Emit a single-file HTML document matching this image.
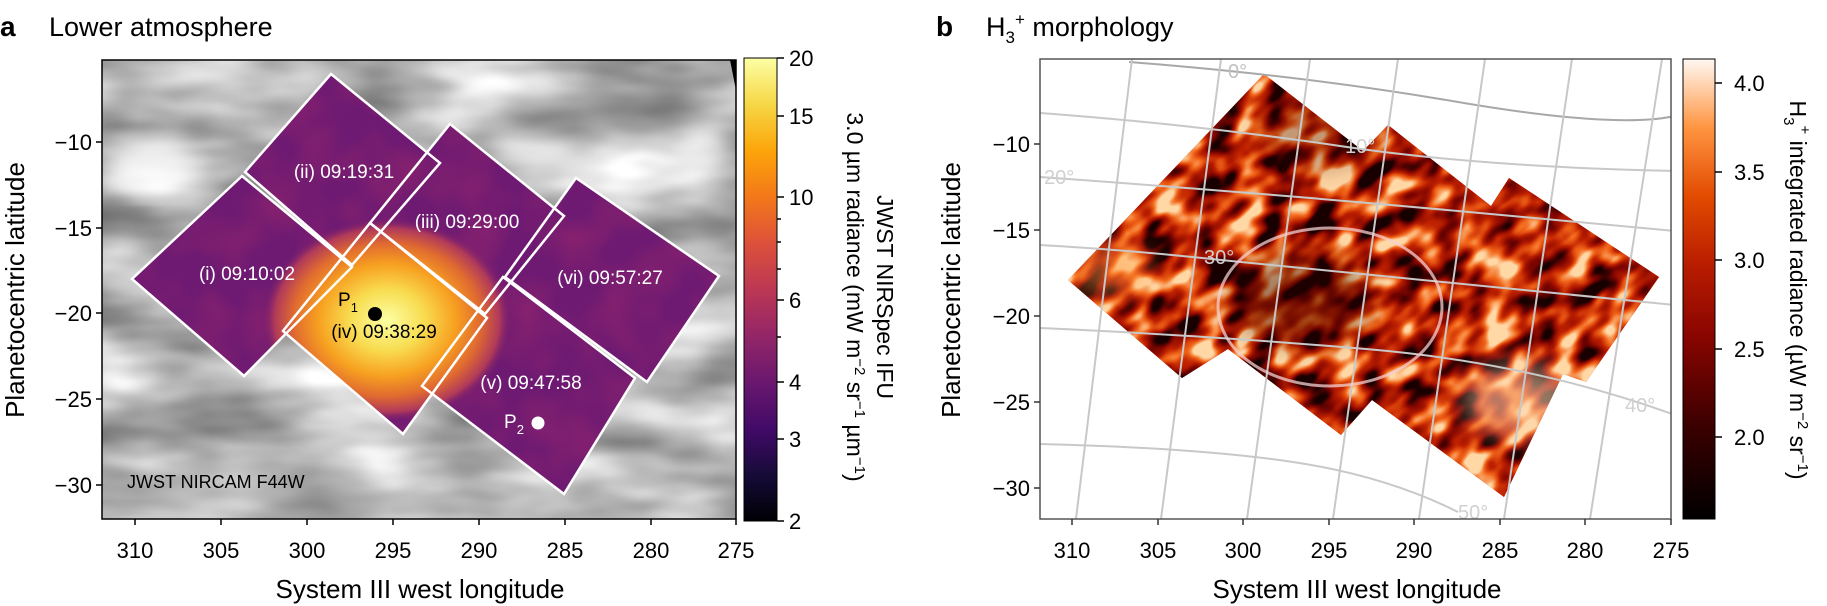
<!DOCTYPE html>
<html><head><meta charset="utf-8"><style>
html,body{margin:0;padding:0;background:#fff;width:1827px;height:606px;overflow:hidden;}
svg{display:block;font-family:"Liberation Sans",sans-serif;overflow:hidden;}
</style></head><body>
<svg width="1827" height="606" viewBox="0 0 1827 606" xmlns="http://www.w3.org/2000/svg">
<defs>
  <linearGradient id="inf" x1="0" y1="1" x2="0" y2="0">
    <stop offset="0" stop-color="#000004"/><stop offset="0.1" stop-color="#160b39"/>
    <stop offset="0.2" stop-color="#420a68"/><stop offset="0.3" stop-color="#6a176e"/>
    <stop offset="0.4" stop-color="#932667"/><stop offset="0.5" stop-color="#bc3754"/>
    <stop offset="0.6" stop-color="#dd513a"/><stop offset="0.7" stop-color="#f37819"/>
    <stop offset="0.8" stop-color="#fca50a"/><stop offset="0.9" stop-color="#f6d746"/>
    <stop offset="1" stop-color="#fcffa4"/>
  </linearGradient>
  <linearGradient id="heat" x1="0" y1="1" x2="0" y2="0">
    <stop offset="0" stop-color="#000000"/><stop offset="0.2" stop-color="#3a0000"/>
    <stop offset="0.4" stop-color="#8a0500"/><stop offset="0.55" stop-color="#b81c00"/>
    <stop offset="0.7" stop-color="#e24a00"/><stop offset="0.85" stop-color="#ff9440"/>
    <stop offset="1" stop-color="#fff8f2"/>
  </linearGradient>
  <radialGradient id="glow" cx="387" cy="320" r="1" gradientUnits="userSpaceOnUse" gradientTransform="translate(387 320) scale(125 102) translate(-387 -320)">
    <stop offset="0" stop-color="#fcffa4"/><stop offset="0.3" stop-color="#f8dc50"/>
    <stop offset="0.55" stop-color="#f7a020"/><stop offset="0.75" stop-color="#e06a30"/>
    <stop offset="0.9" stop-color="#b03a5a"/><stop offset="1" stop-color="#761c6e" stop-opacity="0"/>
  </radialGradient>
  <filter id="grayn" x="102" y="60" width="634" height="460" filterUnits="userSpaceOnUse" color-interpolation-filters="sRGB">
    <feTurbulence type="fractalNoise" baseFrequency="0.007 0.02" numOctaves="3" seed="4"/>
    <feColorMatrix type="matrix" values="0.8 0 0 0 0.32  0.8 0 0 0 0.32  0.8 0 0 0 0.32  0 0 0 0 1"/>
  </filter>
  <filter id="blur8"><feGaussianBlur stdDeviation="12"/></filter>
  <filter id="heatn" x="-200" y="-200" width="3000" height="1200" filterUnits="userSpaceOnUse" color-interpolation-filters="sRGB">
    <feTurbulence type="fractalNoise" baseFrequency="0.028 0.045" numOctaves="2" seed="7"/>
    <feColorMatrix type="matrix" values="2.4 0 0 0 -0.72  2.4 0 0 0 -0.72  2.4 0 0 0 -0.72  0 0 0 0 1"/>
    <feComponentTransfer>
      <feFuncR type="table" tableValues="0.1 0.5 0.75 0.95 1"/>
      <feFuncG type="table" tableValues="0 0.02 0.13 0.4 0.85"/>
      <feFuncB type="table" tableValues="0 0 0 0.1 0.65"/>
    </feComponentTransfer>
  </filter>
  <filter id="purn" x="102" y="60" width="634" height="460" filterUnits="userSpaceOnUse" color-interpolation-filters="sRGB">
    <feTurbulence type="fractalNoise" baseFrequency="0.02" numOctaves="2" seed="2"/>
    <feColorMatrix type="matrix" values="0 0 0 0 0.6  0 0 0 0 0.15  0 0 0 0 0.42  1.2 0 0 0 -0.45"/>
  </filter>
  <clipPath id="clipA"><rect x="102" y="60" width="634" height="459"/></clipPath>
  <clipPath id="tiles">
    <polygon points="331,74 440,163 352,265 245,172"/>
    <polygon points="242,176 352,267 244,376 132,279"/>
    <polygon points="450,124 564,216 485,314 370,223"/>
    <polygon points="370,223 487,318 403,434 283,331"/>
    <polygon points="503,277 635,378 564,494 422,386"/>
    <polygon points="576,178 719,276 647,382 505,277"/>
  </clipPath>
  <clipPath id="clipB"><rect x="1040" y="59" width="631" height="460"/></clipPath>
  <clipPath id="shapeB">
    <polygon points="1068,280 1264,74 1363,151 1388,125 1491,206 1509,178 1659,277 1586,382 1563,374 1504,497 1372,400 1341,435 1228,349 1182,378"/>
  </clipPath>
</defs>

<!-- Panel a -->
<text x="0" y="36" font-size="28" font-weight="bold">a</text>
<text x="49" y="36" font-size="27">Lower atmosphere</text>
<g clip-path="url(#clipA)">
  <rect x="102" y="60" width="634" height="459" fill="#b0b0b0" filter="url(#grayn)"/>
  <g filter="url(#blur8)" fill="#fff" opacity="0.8">
    <ellipse cx="150" cy="165" rx="45" ry="28"/>
    <ellipse cx="535" cy="150" rx="45" ry="16"/>
    <ellipse cx="210" cy="75" rx="40" ry="10"/>
    <ellipse cx="700" cy="140" rx="25" ry="20"/>
  </g>
  <g filter="url(#blur8)" fill="#888" opacity="0.45">
    <ellipse cx="250" cy="490" rx="140" ry="25"/>
    <ellipse cx="600" cy="110" rx="90" ry="18"/>
  </g>
  <polygon points="730,60 736,60 736,90" fill="#000"/>
  <g clip-path="url(#tiles)">
    <rect x="102" y="60" width="634" height="459" fill="#6e1a72"/>
    <rect x="102" y="60" width="634" height="459" filter="url(#purn)"/>
    <ellipse cx="387" cy="320" rx="125" ry="102" fill="url(#glow)"/>
  </g>
  <g fill="none" stroke="#fff" stroke-width="2.5">
    <polygon points="331,74 440,163 352,265 245,172"/>
    <polygon points="242,176 352,267 244,376 132,279"/>
    <polygon points="450,124 564,216 485,314 370,223"/>
    <polygon points="576,178 719,276 647,382 505,277"/>
    <polygon points="503,277 635,378 564,494 422,386"/>
    <polygon points="370,223 487,318 403,434 283,331"/>
  </g>
  <g font-size="19" fill="#fff" text-anchor="middle">
    <text x="344" y="178">(ii) 09:19:31</text>
    <text x="467" y="228">(iii) 09:29:00</text>
    <text x="247" y="280">(i) 09:10:02</text>
    <text x="610" y="284">(vi) 09:57:27</text>
    <text x="531" y="389">(v) 09:47:58</text>
    <text x="384" y="338" fill="#000">(iv) 09:38:29</text>
  </g>
  <circle cx="375" cy="314" r="7" fill="#000"/>
  <text x="338" y="306" font-size="19">P<tspan font-size="13" dy="6">1</tspan></text>
  <circle cx="538" cy="423" r="6.5" fill="#fff"/>
  <text x="504" y="428" font-size="19" fill="#fff">P<tspan font-size="13" dy="6">2</tspan></text>
  <text x="127" y="488" font-size="18">JWST NIRCAM F44W</text>
</g>
<rect x="102" y="60" width="634" height="459" fill="none" stroke="#000" stroke-width="1.5"/>
<g stroke="#000" stroke-width="1.5">
  <line x1="96" y1="142" x2="102" y2="142"/><line x1="96" y1="228" x2="102" y2="228"/>
  <line x1="96" y1="313" x2="102" y2="313"/><line x1="96" y1="399" x2="102" y2="399"/>
  <line x1="96" y1="485" x2="102" y2="485"/>
  <line x1="135" y1="519" x2="135" y2="525"/><line x1="221" y1="519" x2="221" y2="525"/>
  <line x1="307" y1="519" x2="307" y2="525"/><line x1="393" y1="519" x2="393" y2="525"/>
  <line x1="479" y1="519" x2="479" y2="525"/><line x1="565" y1="519" x2="565" y2="525"/>
  <line x1="651" y1="519" x2="651" y2="525"/><line x1="736" y1="519" x2="736" y2="525"/>
</g>
<g font-size="22" text-anchor="end">
  <text x="92" y="150">−10</text><text x="92" y="236">−15</text><text x="92" y="321">−20</text>
  <text x="92" y="407">−25</text><text x="92" y="493">−30</text>
</g>
<g font-size="22" text-anchor="middle">
  <text x="135" y="558">310</text><text x="221" y="558">305</text><text x="307" y="558">300</text>
  <text x="393" y="558">295</text><text x="479" y="558">290</text><text x="565" y="558">285</text>
  <text x="651" y="558">280</text><text x="736" y="558">275</text>
</g>
<text x="420" y="598" font-size="26" text-anchor="middle">System III west longitude</text>
<text transform="translate(24 290) rotate(-90)" font-size="26" text-anchor="middle">Planetocentric latitude</text>
<!-- colorbar a -->
<rect x="744" y="58" width="33" height="463" fill="url(#inf)" stroke="#000" stroke-width="1"/>
<g stroke="#000" stroke-width="1.5">
  <line x1="777" y1="58" x2="784" y2="58"/><line x1="777" y1="116" x2="784" y2="116"/>
  <line x1="777" y1="197" x2="784" y2="197"/><line x1="777" y1="219" x2="781" y2="219"/>
  <line x1="777" y1="242" x2="781" y2="242"/><line x1="777" y1="269" x2="781" y2="269"/>
  <line x1="777" y1="300" x2="784" y2="300"/><line x1="777" y1="337" x2="781" y2="337"/>
  <line x1="777" y1="382" x2="784" y2="382"/><line x1="777" y1="439" x2="784" y2="439"/>
  <line x1="777" y1="521" x2="784" y2="521"/>
</g>
<g font-size="22">
  <text x="789" y="66">20</text><text x="789" y="124">15</text><text x="789" y="205">10</text>
  <text x="789" y="308">6</text><text x="789" y="390">4</text><text x="789" y="447">3</text>
  <text x="789" y="529">2</text>
</g>
<g font-size="23" text-anchor="middle">
  <text transform="translate(877 297) rotate(90)">JWST NIRSpec IFU</text>
  <text transform="translate(847 297) rotate(90)">3.0 µm radiance (mW m<tspan font-size="15" dy="-8">−2</tspan><tspan dy="8"> sr</tspan><tspan font-size="15" dy="-8">−1</tspan><tspan dy="8"> µm</tspan><tspan font-size="15" dy="-8">−1</tspan><tspan dy="8">)</tspan></text>
</g>

<!-- Panel b -->
<text x="936" y="36" font-size="28" font-weight="bold">b</text>
<text x="986" y="36" font-size="27">H<tspan font-size="17" dy="7">3</tspan><tspan font-size="17" dy="-18">+</tspan><tspan dy="11"> morphology</tspan></text>
<g clip-path="url(#clipB)">
  <g clip-path="url(#shapeB)">
    <rect x="1040" y="59" width="640" height="460" fill="#b81c00"/>
    <g transform="rotate(-38 1360 290)">
      <rect x="900" y="-100" width="900" height="800" filter="url(#heatn)"/>
    </g>
    <g filter="url(#blur8)">
      <ellipse cx="1520" cy="400" rx="55" ry="35" fill="#ffd8b0" opacity="0.55"/>
      <ellipse cx="1110" cy="270" rx="40" ry="25" fill="#ff9a40" opacity="0.45"/>
      <ellipse cx="1300" cy="300" rx="70" ry="45" fill="#200000" opacity="0.4"/>
      <ellipse cx="1320" cy="130" rx="60" ry="40" fill="#400000" opacity="0.3"/>
    </g>
  </g>
  <g fill="none" stroke="#c8c8c8" stroke-width="2">
    <path d="M1129,62 Q1300,75 1458,102 T1675,116" stroke="#a8a8a8"/>
    <path d="M1040,113 Q1200,125 1340,146 T1675,171"/>
    <path d="M1040,177 Q1250,192 1458,211 T1675,231"/>
    <path d="M1040,245 Q1130,250 1221,260 T1675,305"/>
    <path d="M1040,328 Q1200,335 1366,349 T1675,415"/>
    <path d="M1040,444 Q1200,448 1293,462 T1458,512"/>
    <line x1="1132" y1="59" x2="1076" y2="519"/><line x1="1221" y1="59" x2="1161" y2="519"/>
    <line x1="1310" y1="59" x2="1247" y2="519"/><line x1="1398" y1="59" x2="1333" y2="519"/>
    <line x1="1485" y1="59" x2="1419" y2="519"/><line x1="1572" y1="59" x2="1504" y2="519"/>
    <line x1="1662" y1="59" x2="1590" y2="519"/>
  </g>
  <g font-size="20" fill="#d0d0d0">
    <text x="1228" y="78" fill="#c0c0c0">0°</text><text x="1345" y="153">10°</text>
    <text x="1044" y="184">20°</text><text x="1204" y="264">30°</text>
    <text x="1625" y="412">40°</text><text x="1458" y="519">50°</text>
  </g>
  <ellipse cx="1330" cy="307" rx="112" ry="79" fill="none" stroke="#f4d0d0" stroke-opacity="0.75" stroke-width="3"/>
</g>
<rect x="1040" y="59" width="631" height="460" fill="none" stroke="#555" stroke-width="1.5"/>
<g stroke="#333" stroke-width="1.5">
  <line x1="1034" y1="144" x2="1040" y2="144"/><line x1="1034" y1="230" x2="1040" y2="230"/>
  <line x1="1034" y1="316" x2="1040" y2="316"/><line x1="1034" y1="402" x2="1040" y2="402"/>
  <line x1="1034" y1="488" x2="1040" y2="488"/>
  <line x1="1072" y1="519" x2="1072" y2="525"/><line x1="1158" y1="519" x2="1158" y2="525"/>
  <line x1="1243" y1="519" x2="1243" y2="525"/><line x1="1329" y1="519" x2="1329" y2="525"/>
  <line x1="1414" y1="519" x2="1414" y2="525"/><line x1="1500" y1="519" x2="1500" y2="525"/>
  <line x1="1585" y1="519" x2="1585" y2="525"/><line x1="1671" y1="519" x2="1671" y2="525"/>
</g>
<g font-size="22" text-anchor="end">
  <text x="1030" y="152">−10</text><text x="1030" y="238">−15</text><text x="1030" y="324">−20</text>
  <text x="1030" y="410">−25</text><text x="1030" y="496">−30</text>
</g>
<g font-size="22" text-anchor="middle">
  <text x="1072" y="558">310</text><text x="1158" y="558">305</text><text x="1243" y="558">300</text>
  <text x="1329" y="558">295</text><text x="1414" y="558">290</text><text x="1500" y="558">285</text>
  <text x="1585" y="558">280</text><text x="1671" y="558">275</text>
</g>
<text x="1357" y="598" font-size="26" text-anchor="middle">System III west longitude</text>
<text transform="translate(960 290) rotate(-90)" font-size="26" text-anchor="middle">Planetocentric latitude</text>
<!-- colorbar b -->
<rect x="1683" y="59" width="32" height="460" fill="url(#heat)" stroke="#000" stroke-width="1"/>
<g stroke="#000" stroke-width="1.5">
  <line x1="1715" y1="83" x2="1722" y2="83"/><line x1="1715" y1="172" x2="1722" y2="172"/>
  <line x1="1715" y1="260" x2="1722" y2="260"/><line x1="1715" y1="349" x2="1722" y2="349"/>
  <line x1="1715" y1="437" x2="1722" y2="437"/>
</g>
<g font-size="22">
  <text x="1734" y="91">4.0</text><text x="1734" y="180">3.5</text><text x="1734" y="268">3.0</text>
  <text x="1734" y="357">2.5</text><text x="1734" y="445">2.0</text>
</g>
<text transform="translate(1790 290) rotate(90)" font-size="23" text-anchor="middle">H<tspan font-size="15" dy="6">3</tspan><tspan font-size="15" dy="-16">+</tspan><tspan dy="10"> integrated radiance (µW m</tspan><tspan font-size="15" dy="-8">−2</tspan><tspan dy="8"> sr</tspan><tspan font-size="15" dy="-8">−1</tspan><tspan dy="8">)</tspan></text>
</svg>
</body></html>
